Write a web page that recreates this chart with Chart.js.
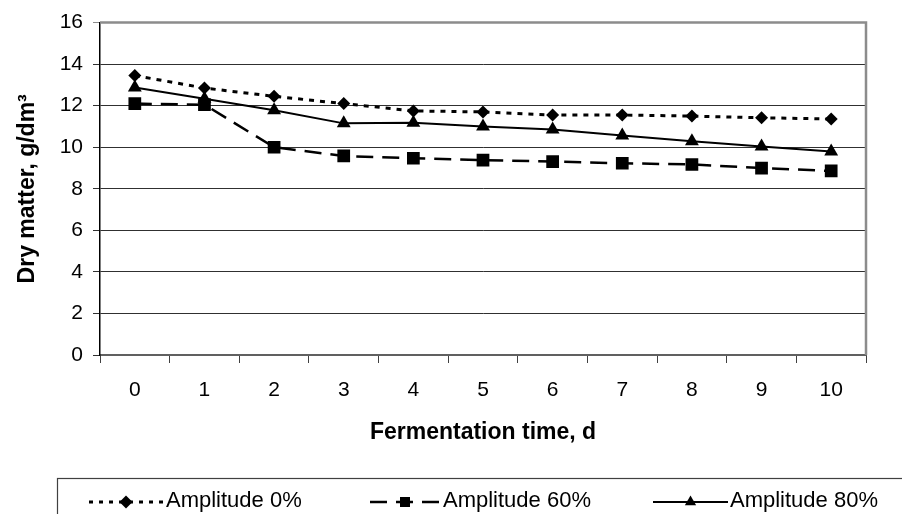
<!DOCTYPE html>
<html>
<head>
<meta charset="utf-8">
<script src="https://cdn.jsdelivr.net/npm/chart.js@4"></script>
<style>
  body { margin: 0; background: #fff; }
  #myChart { display: block; }
</style>
</head>
<body>
<canvas id="myChart" width="902" height="514"></canvas>
<script>
const days = ['0', '1', '2', '3', '4', '5', '6', '7', '8', '9', '10'];
const amp0 = [13.45, 12.85, 12.45, 12.1, 11.75, 11.7, 11.55, 11.55, 11.5, 11.42, 11.36];
const amp60 = [12.1, 12.05, 10.0, 9.58, 9.47, 9.38, 9.31, 9.23, 9.17, 9.0, 8.86];
const amp80 = [12.88, 12.33, 11.78, 11.15, 11.18, 11.0, 10.85, 10.57, 10.29, 10.04, 9.79];
const seriesNames = ['Amplitude 0%', 'Amplitude 60%', 'Amplitude 80%'];

const FONT = 'Liberation Sans, Arial, sans-serif';

// marker for the legend samples (same shapes as the points)
function marker(ctx, style, x, y) {
    ctx.beginPath();
    if (style === 'rectRot') {
        const r = 6.5;
        ctx.moveTo(x, y - r); ctx.lineTo(x + r, y); ctx.lineTo(x, y + r); ctx.lineTo(x - r, y);
    } else if (style === 'rect') {
        ctx.rect(x - 5, y - 5, 10, 10);
    } else {
        const r = 6.5;
        ctx.moveTo(x, y - r); ctx.lineTo(x + r * 0.866, y + r / 2); ctx.lineTo(x - r * 0.866, y + r / 2);
    }
    ctx.closePath();
    ctx.fill();
}

// plot frame (top/right in grey) and the boxed legend under the chart
const framePlugin = {
    id: 'frame',
    afterDraw(chart) {
        const ctx = chart.ctx;
        const a = chart.chartArea;
        ctx.save();
        ctx.strokeStyle = '#8c8c8c';
        ctx.lineWidth = 2.5;
        ctx.beginPath();
        ctx.moveTo(a.left, a.top);
        ctx.lineTo(a.right, a.top);
        ctx.lineTo(a.right, a.bottom);
        ctx.stroke();

        // legend box
        ctx.strokeStyle = '#404040';
        ctx.lineWidth = 1.2;
        ctx.strokeRect(57.5, 478.5, 900, 60);

        const items = [
            { x1: 89, x2: 163, tx: 166, ds: chart.data.datasets[0] },
            { x1: 370, x2: 440, tx: 443, ds: chart.data.datasets[1] },
            { x1: 653, x2: 728, tx: 730, ds: chart.data.datasets[2] }
        ];
        ctx.fillStyle = '#000';
        ctx.strokeStyle = '#000';
        items.forEach(it => {
            ctx.lineWidth = it.ds.borderWidth;
            ctx.setLineDash(it.ds.legendDash);
            ctx.beginPath();
            ctx.moveTo(it.x1, 502);
            ctx.lineTo(it.x2, 502);
            ctx.stroke();
            ctx.setLineDash([]);
            marker(ctx, it.ds.pointStyle, (it.x1 + it.x2) / 2, 502);
            ctx.font = '22px ' + FONT;
            ctx.textBaseline = 'alphabetic';
            ctx.textAlign = 'left';
            ctx.fillText(it.ds.label, it.tx, 507);
        });
        ctx.restore();
    }
};

const ctx = document.getElementById('myChart').getContext('2d');
const myChart = new Chart(ctx, {
    type: 'line',
    data: {
        labels: days,
        datasets: [{
            label: seriesNames[0],
            data: amp0,
            borderColor: '#000',
            backgroundColor: '#000',
            borderWidth: 3,
            borderDash: [5, 6],
            legendDash: [4, 6],
            pointStyle: 'rectRot',
            pointRadius: 6.5,
            pointBorderWidth: 0,
            tension: 0
        }, {
            label: seriesNames[1],
            data: amp60,
            borderColor: '#000',
            backgroundColor: '#000',
            borderWidth: 2.5,
            borderDash: [17, 9],
            legendDash: [17, 9],
            pointStyle: 'rect',
            pointRadius: 9,
            pointBorderWidth: 0,
            tension: 0
        }, {
            label: seriesNames[2],
            data: amp80,
            borderColor: '#000',
            backgroundColor: '#000',
            borderWidth: 2,
            borderDash: [],
            legendDash: [],
            pointStyle: 'triangle',
            pointRadius: 8,
            pointBorderWidth: 0,
            tension: 0
        }]
    },
    options: {
        responsive: false,
        animation: false,
        layout: { padding: { left: 0, top: 22, right: 36, bottom: 68 } },
        plugins: {
            legend: { display: false },
            tooltip: { enabled: false }
        },
        scales: {
            x: {
                offset: true,
                afterFit: s => { s.height = 91; },
                grid: {
                    offset: true,
                    drawOnChartArea: false,
                    tickLength: 8,
                    color: '#404040'
                },
                border: { color: '#606060', width: 2 },
                ticks: { color: '#000', padding: 15, font: { family: FONT, size: 21 } },
                title: {
                    display: true,
                    text: 'Fermentation time, d',
                    color: '#000',
                    padding: 0,
                    font: { family: FONT, size: 23, weight: 'bold' }
                }
            },
            y: {
                min: 0,
                max: 16,
                afterFit: s => { s.width = 100; },
                grid: {
                    tickLength: 7,
                    color: c => (c.tick && c.tick.value === 16) ? '#8c8c8c' : '#303030',
                    lineWidth: 1
                },
                border: { color: '#000', width: 1.5 },
                ticks: { stepSize: 2, color: '#000', padding: 10, font: { family: FONT, size: 21 } },
                title: {
                    display: true,
                    text: 'Dry matter, g/dm³',
                    color: '#000',
                    padding: { top: 14, bottom: 0 },
                    font: { family: FONT, size: 23, weight: 'bold' }
                }
            }
        }
    },
    plugins: [framePlugin]
});
</script>
</body>
</html>
